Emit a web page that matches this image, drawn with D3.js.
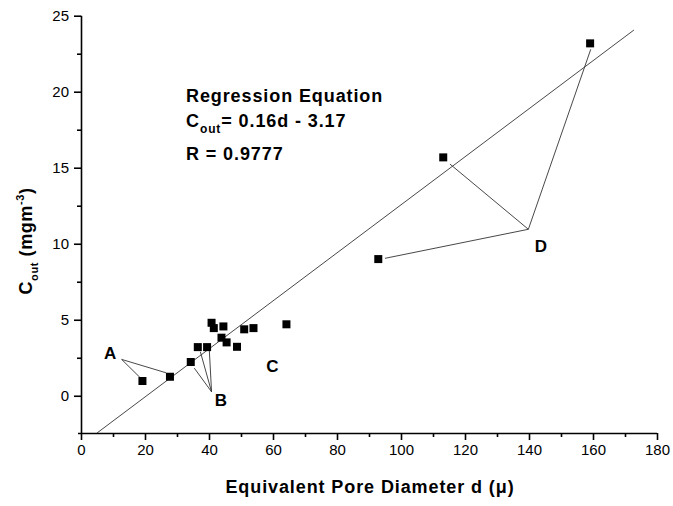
<!DOCTYPE html>
<html><head><meta charset="utf-8">
<script src="https://cdn.jsdelivr.net/npm/d3@7"></script>
<style>body{margin:0;background:#fff}svg{display:block;font-family:"Liberation Sans",Arial,sans-serif}</style>
</head><body>
<svg id="c" width="673" height="506"></svg>
<script>
// Data
const diameter = [19.2, 27.8, 34.3, 36.5, 39.4, 40.8, 41.5, 44.5, 43.9, 45.5, 48.75, 51.0, 53.9, 64.2, 92.9, 113.2, 159.1];
const cout     = [0.97, 1.25, 2.22, 3.2, 3.2, 4.8, 4.45, 4.56, 3.82, 3.51, 3.22, 4.37, 4.45, 4.7, 8.99, 15.68, 23.18];
const fitD = [5, 172.8];
const fitC = [-2.45, 24.06];
const xTicks = [0, 20, 40, 60, 80, 100, 120, 140, 160, 180];
const yTicks = [0, 5, 10, 15, 20, 25];
const labelNames = ["A", "B", "C", "D"];
const labelD = [9.1, 43.7, 59.8, 143.75];
const labelC = [2.8, -0.28, 1.95, 9.85];
// leader lines: [vertexD, vertexC, endD, endC]
const leaders = [
  [12.7, 2.39, 26.6, 1.51], [12.7, 2.39, 18.4, 1.21],
  [40.8, 0.26, 35.4, 1.82], [40.8, 0.26, 37.3, 2.89], [40.8, 0.26, 40.1, 3.0],
  [139.8, 10.95, 95.0, 9.04], [139.8, 10.95, 115.3, 15.24], [139.8, 10.95, 159.3, 22.79]
];

const svg = d3.select("#c");
const x = d3.scaleLinear().domain([0, 180]).range([81, 657]);
const y = d3.scaleLinear().domain([-2.45, 25]).range([433, 15.7]);

// x axis
const xa = svg.append("g").attr("transform", "translate(0,433)");
xa.call(d3.axisBottom(x).tickValues(d3.range(10, 180, 20)).tickSize(4).tickFormat(""));
xa.call(g => g.select(".domain").remove());
const xb = svg.append("g").attr("transform", "translate(0,433)");
xb.call(d3.axisBottom(x).tickValues(xTicks).tickSize(7).tickSizeOuter(0).tickPadding(4));
xb.select(".domain").attr("d", `M78,0.5H${x(180)}`);
xb.selectAll("text").attr("font-size", 15).attr("fill", "#000");
xb.select(".domain").attr("stroke-width", 1.6);

// y axis
const ya = svg.append("g").attr("transform", "translate(81,0)");
ya.call(d3.axisLeft(y).tickValues([2.5, 7.5, 12.5, 17.5, 22.5]).tickSize(4).tickFormat(""));
ya.select(".domain").remove();
const yb = svg.append("g").attr("transform", "translate(81,0)");
yb.call(d3.axisLeft(y).tickValues(yTicks).tickSize(7).tickSizeOuter(0).tickPadding(5));
yb.select(".domain").attr("d", `M0.5,${y(25)}V433`).attr("stroke-width", 1.6);
yb.selectAll("text").attr("font-size", 15).attr("fill", "#000");
svg.selectAll(".tick line").attr("stroke", "#000").attr("stroke-width", 1.6);

// regression line
svg.append("line")
  .attr("x1", x(fitD[0])).attr("y1", y(fitC[0]))
  .attr("x2", x(fitD[1])).attr("y2", y(fitC[1]))
  .attr("stroke", "#333").attr("stroke-width", 0.9);

// leaders
svg.selectAll(".leader").data(leaders).enter().append("line")
  .attr("x1", d => x(d[0])).attr("y1", d => y(d[1]))
  .attr("x2", d => x(d[2])).attr("y2", d => y(d[3]))
  .attr("stroke", "#333").attr("stroke-width", 0.9);

// points
svg.selectAll(".pt").data(diameter).enter().append("rect")
  .attr("x", (d, i) => x(d) - 4).attr("y", (d, i) => y(cout[i]) - 4)
  .attr("width", 8).attr("height", 8).attr("fill", "#000");

// labels
svg.selectAll(".lab").data(labelNames).enter().append("text")
  .attr("x", (d, i) => x(labelD[i])).attr("y", (d, i) => y(labelC[i]) + 6)
  .attr("text-anchor", "middle").attr("font-size", 17).attr("font-weight", "bold")
  .text(d => d);

// regression text
const t = svg.append("g").attr("font-size", 18).attr("font-weight", "bold").attr("letter-spacing", 0.9);
t.append("text").attr("x", 186).attr("y", 102).text("Regression Equation");
const t2 = t.append("text").attr("x", 186).attr("y", 127);
t2.append("tspan").text("C");
t2.append("tspan").attr("font-size", 12).attr("dy", 6).text("out");
t2.append("tspan").attr("dy", -6).text("= 0.16d - 3.17");
t.append("text").attr("x", 186).attr("y", 160).text("R = 0.9777");

// axis titles
svg.append("text").attr("x", 370).attr("y", 493).attr("text-anchor", "middle")
  .attr("font-size", 18).attr("font-weight", "bold").attr("letter-spacing", 0.9)
  .text("Equivalent Pore Diameter d (μ)");
const yt = svg.append("text").attr("transform", "translate(32,241) rotate(-90)")
  .attr("text-anchor", "middle").attr("font-size", 18).attr("font-weight", "bold").attr("letter-spacing", 0.6);
yt.append("tspan").text("C");
yt.append("tspan").attr("font-size", 11).attr("dy", 6).text("out");
yt.append("tspan").attr("dy", -6).text(" (mgm");
yt.append("tspan").attr("font-size", 11).attr("dy", -8).text("-3");
yt.append("tspan").attr("dy", 8).text(")");
</script>
</body></html>
